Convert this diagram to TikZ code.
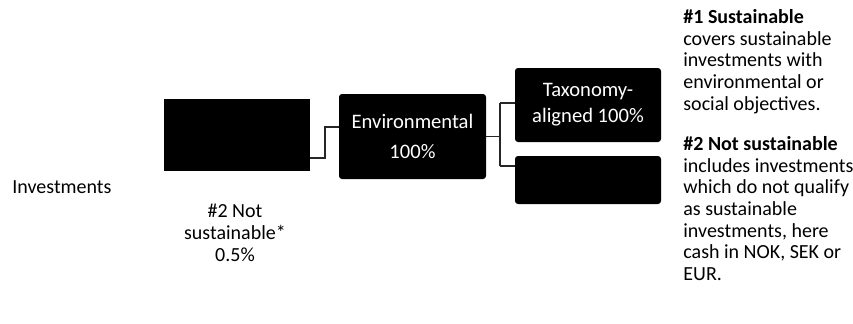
\documentclass[tikz,border=0pt]{standalone}
\usepackage{fontspec}
\setmainfont{Carlito}

\begin{document}
\begin{tikzpicture}[x=0.5pt, y=-0.5pt,
  box/.style={fill=black, text=white, inner sep=0pt, align=center, font=\fontsize{10.3}{13}\selectfont},
  link/.style={draw=black!85, line width=0.65pt},
  note/.style={inner sep=0pt, align=left, font=\fontsize{10}{10.85}\selectfont}]
\useasboundingbox (0,0) rectangle (853,323);

\node[box, minimum width=73pt, minimum height=36pt] (v1) at (237,135) {};
\node[box, rounded corners=1.5pt, minimum width=73.5pt, minimum height=42.5pt, font=\fontsize{10.3}{15}\selectfont] (v2) at (412.5,136.5) {Environmental\\100\%};
\node[box, rounded corners=1.5pt, minimum width=73pt, minimum height=37pt] (v3) at (588,105) {Taxonomy-\\aligned 100\%};
\node[box, rounded corners=1.5pt, minimum width=73pt, minimum height=24pt] (v4) at (588,180) {};

\coordinate (j1) at (325,158);
\coordinate (j2) at (325,127);
\coordinate (j3) at (500,103);
\coordinate (j4) at (500,166);

\draw[link] (v1.east |- j1) -- (j1) -- (j2) -- (v2.west |- j2);
\draw[link] (v2.east) -- (v2.east -| j3);
\draw[link] (j3) -- (j4);
\draw[link] (j3) -- (v3.west |- j3);
\draw[link] (j4) -- (v4.west |- j4);

\node[note, anchor=west] (inv) at (12,187) {Investments};
\node[note, align=center] (ns) at (235,233) {\#2 Not\\sustainable*\\0.5\%};
\node[note, anchor=north west] (n1) at (683,9) {\textbf{\#1 Sustainable}\\covers sustainable\\investments with\\environmental or\\social objectives.};
\node[note, anchor=north west] (n2) at (683,136) {\textbf{\#2 Not sustainable}\\includes investments\\which do not qualify\\as sustainable\\investments, here\\cash in NOK, SEK or\\EUR.};

\end{tikzpicture}
\end{document}
